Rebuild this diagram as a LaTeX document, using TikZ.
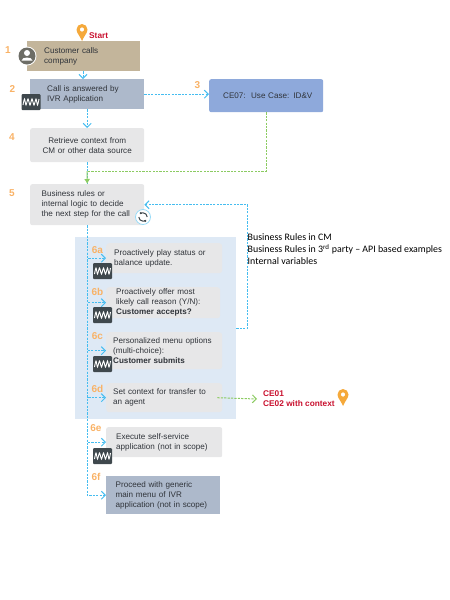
\documentclass[tikz,border=0pt]{standalone}
\usepackage{fontspec}
\setmainfont{Liberation Sans}
\newfontfamily\notefont{Carlito}
\usetikzlibrary{arrows.meta,positioning,calc}

\definecolor{tanbox}{HTML}{C3B59B}
\definecolor{slatebox}{HTML}{ADB9CB}
\definecolor{usecase}{HTML}{8EA9DB}
\definecolor{greybox}{HTML}{E7E7E8}
\definecolor{panelblue}{HTML}{DEE9F5}
\definecolor{flowblue}{HTML}{45BDF0}
\definecolor{flowgreen}{HTML}{8CCB62}
\definecolor{numorange}{HTML}{F9B266}
\definecolor{pinorange}{HTML}{F5A93B}
\definecolor{redtext}{HTML}{C8102E}
\definecolor{icondark}{HTML}{3F484D}
\definecolor{txt}{HTML}{30343A}

\tikzset{
  wave/.pic={
    \fill[icondark, rounded corners=1pt] (-9.5,-8) rectangle (9.5,8);
    \draw[white, line width=0.9pt] plot[smooth] coordinates
      {(-8,3) (-6.5,-3) (-5,3) (-3,-3) (-1,3) (1,-3) (3,3) (5,-3) (6.5,3) (8,-3)};
  },
  pin/.pic={
    \fill[pinorange, even odd rule] (0,8) .. controls (-2,3) and (-5.5,0) .. (-5.5,-3.5)
      arc[start angle=180, end angle=360, radius=5.5]
      .. controls (5.5,0) and (2,3) .. (0,8) -- cycle
      (0,-3.5) circle[radius=2.2];
  }
}

\begin{document}
\begin{tikzpicture}[
  x=1pt, y=-1pt,
  flow/.style={dash pattern=on 2.2pt off 1.2pt, flowblue, line width=1pt, -{Straight Barb[length=4pt,width=8pt]}},
  link/.style={dash pattern=on 2.2pt off 1.2pt, flowgreen, line width=1pt},
  blk/.style n args={3}{anchor=north west, align=left, font=\fontsize{8.1}{10}\selectfont,
    text=txt, inner ysep=0pt, inner xsep=#3pt, text width=#1pt-2*#3pt, minimum height=#2pt},
  num/.style={font=\fontsize{10}{10}\selectfont\bfseries, text=numorange, inner sep=0pt},
  red/.style={font=\fontsize{8.3}{10}\selectfont\bfseries, text=redtext, inner sep=0pt, align=left}
]
  \useasboundingbox (0,0) rectangle (450,600);

  \node[anchor=north west, minimum width=161pt, minimum height=182pt, inner sep=0pt, fill=panelblue] (panel) at (75,237) {};

  \node[blk={113}{30}{17}, fill=tanbox] (calls) at (27,41) {Customer calls\\company};
  \node[blk={114}{30}{17}, fill=slatebox] (ivr) at (30,79) {Call is answered by\\IVR Application};
  \node[blk={114}{33}{14}, fill=usecase, rounded corners=2pt] (ce07) at (209,79) {\mbox{CE07:\ \ Use Case: ID\&V}};
  \node[blk={114}{34}{4}, fill=greybox, rounded corners=2pt, align=center] (context) at (30,128) {Retrieve context from\\CM or other data source};
  \node[blk={114}{41}{11.5}, fill=greybox, rounded corners=2pt] (rules) at (30,184) {Business rules or\\internal logic to decide\\the next step for the call};

  \node[blk={116}{30}{8}, fill=greybox, rounded corners=3pt] (play) at (106,243) {Proactively play status or\\balance update.};
  \node[blk={114}{31}{10}, fill=greybox, rounded corners=3pt] (offer) at (106,287) {Proactively offer most\\likely call reason (Y/N):\\\textbf{Customer accepts?}};
  \node[blk={116}{37}{7}, fill=greybox, rounded corners=3pt] (menu) at (106,332) {Personalized menu options\\(multi-choice):\\\textbf{Customer submits}};
  \node[blk={116}{29}{7}, fill=greybox, rounded corners=3pt] (transfer) at (106,383) {Set context for transfer to\\an agent};
  \node[blk={116}{30}{10}, fill=greybox, rounded corners=2pt] (self) at (106,427) {Execute self-service\\application (not in scope)};
  \node[blk={114}{38}{9.5}, fill=slatebox] (generic) at (106,476) {Proceed with generic\\main menu of IVR\\application (not in scope)};

  \node[num] (n1) at (8,50) {1};
  \node[num] (n2) at (12.5,89) {2};
  \node[num] (n3) at (197.5,85) {3};
  \node[num] (n4) at (12,137) {4};
  \node[num] (n5) at (12,193) {5};
  \node[num] (n6a) at (97.5,250) {6a};
  \node[num] (n6b) at (97.5,292) {6b};
  \node[num] (n6c) at (97.5,336) {6c};
  \node[num] (n6d) at (97.5,389) {6d};
  \node[num] (n6e) at (96,428) {6e};
  \node[num] (n6f) at (96,477) {6f};

  \node[red, anchor=west] (start) at (89,36) {Start};
  \node[red, anchor=west] (agents) at (263,399) {CE01\\CE02 with context};
  \node[anchor=north west, inner sep=0pt, align=left, text=black, font=\notefont\fontsize{9.9}{12.2}\selectfont] (note) at (247.5,233.5)
    {Business Rules in CM\\Business Rules in 3\textsuperscript{rd} party – API based examples\\Internal variables};

  \coordinate (merge) at (87,171);

  % blue flow
  \draw[flow] (calls.south -| 83,0) -- (ivr.north -| 83,0);
  \draw[flow] (ivr.south) -- (context.north);
  \draw[flow] (ivr.east) -- (ivr.east -| ce07.west);
  \draw[flow, -] (context.south) -- (rules.north);
  \draw[flow] (rules.south) |- (play.west);
  \draw[flow] (rules.south) |- (offer.west);
  \draw[flow] (rules.south) |- (menu.west);
  \draw[flow] (rules.south) |- (transfer.west);
  \draw[flow] (rules.south) |- (self.west);
  \draw[flow] (rules.south) |- (generic.west);
  \draw[flow] (panel.east) -- ++(11,0) |- (rules.east);

  % green links
  \draw[link] (ce07.south) |- (merge);
  \draw[link, -{Latex[length=5pt,width=6pt]}, solid] (merge) -- (rules.north);
  \draw[link, -{Straight Barb[length=4pt,width=8pt]}] ([xshift=-5pt]transfer.east) -- ([xshift=-6pt]agents.west);

  % icons
  \pic at (31,102) {wave};
  \pic at (102.5,271) {wave};
  \pic at (102.5,315) {wave};
  \pic at (102.5,364) {wave};
  \pic at (102.5,456) {wave};

  \pic at (82,33) {pin};
  \pic at (343,398) {pin};

  \fill[white] (27,56) circle[radius=9.5];
  \fill[black!15!tanbox!45!icondark] (27,56) circle[radius=8.5];
  \fill[white] (27,53) circle[radius=3];
  \fill[white] (21.5,60.5) .. controls (22,56.5) and (32,56.5) .. (32.5,60.5) -- cycle;

  \draw[flowblue!55, fill=white, line width=0.8pt] (143,217) circle[radius=7.5];
  \draw[icondark, line width=1pt, -{Latex[length=2pt,width=3pt]}] (138.8,217) arc[start angle=180, end angle=40, radius=4.2];
  \draw[icondark, line width=1pt, -{Latex[length=2pt,width=3pt]}] (147.2,217) arc[start angle=0, end angle=-140, radius=4.2];
\end{tikzpicture}
\end{document}
